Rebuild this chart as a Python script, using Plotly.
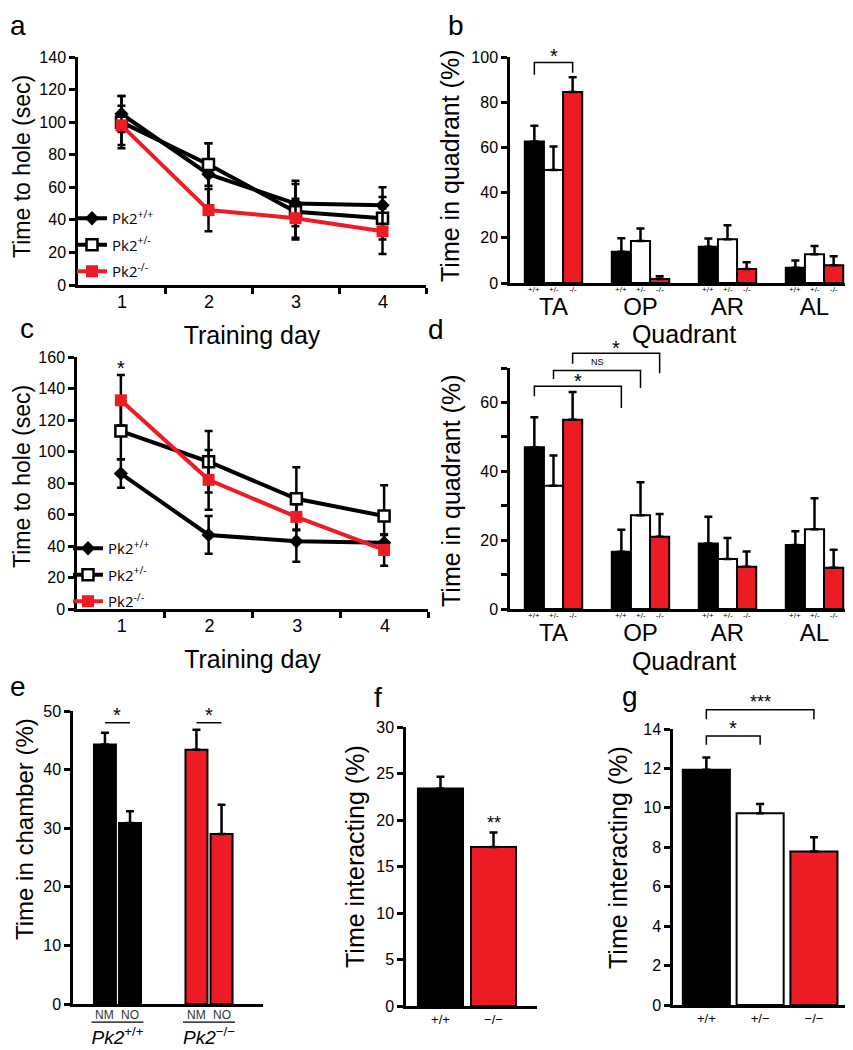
import plotly.graph_objects as go

W, H = 853, 1050
TOP = 8  # page margin above the plot div
RED = "#ED1C24"
SANS = "Liberation Sans, Arial, sans-serif"

# ---- data ----
days = [1, 2, 3, 4]
day_labels = ["1", "2", "3", "4"]
# panel a
a_wt = [105, 68, 50, 49]
a_wt_err = [11, 19, 14, 11]
a_het = [100, 74, 45, 41]
a_het_err = [16, 13, 17, 13]
a_ko = [98, 46, 41, 33]
a_ko_err = [12, 13, 12, 14]
# panel c
c_wt = [86, 47, 43, 42]
c_wt_err = [9, 12, 13, 5]
c_het = [113, 93.5, 70, 59]
c_het_err = [18, 19.5, 20, 19.5]
c_ko = [132.5, 82, 58.5, 37.5]
c_ko_err = [16, 19, 8, 10]

quadrants = ["TA", "OP", "AR", "AL"]
genotypes = ["+/+", "+/-", "-/-"]
# panel b
b_wt = [62.6, 13.8, 16.0, 6.7]
b_wt_err = [7, 6, 3.7, 3.3]
b_het = [50, 18.6, 19.4, 12.7]
b_het_err = [10.4, 5.5, 6.2, 3.7]
b_ko = [84.5, 1.8, 6.2, 7.8]
b_ko_err = [6.5, 1.2, 3, 4]
# panel d
d_wt = [47, 16.6, 19, 18.6]
d_wt_err = [8.7, 6.4, 7.8, 4]
d_het = [35.8, 27.2, 14.5, 23.2]
d_het_err = [8.8, 9.6, 6.1, 9]
d_ko = [55, 21, 12.3, 12]
d_ko_err = [8, 6.6, 4.4, 5.2]

# panel e
e_groups = ["<i>Pk2</i><sup>+/+</sup>", "<i>Pk2</i><sup>\u2212/\u2212</sup>"]
e_nm = [44.3, 43.4]
e_nm_err = [2, 3.4]
e_no = [30.9, 29]
e_no_err = [2, 5]
# panel f
f_groups = ["+/+", "\u2212/\u2212"]
f_vals = [23.4, 17.1]
f_err = [1.25, 1.55]
# panel g
g_groups = ["+/+", "+/\u2212", "\u2212/\u2212"]
g_vals = [11.93, 9.73, 7.78]
g_err = [0.62, 0.47, 0.73]

FH = H - TOP


def px(x):
    return x / W


def py(y):
    return 1 - (y - TOP) / FH


def axis(**kw):
    base = dict(showline=True, linecolor="black", linewidth=2.5, ticks="outside",
                ticklen=6, tickwidth=2.5, tickcolor="black", showgrid=False,
                zeroline=False, automargin=False,
                tickfont=dict(family=SANS, size=16, color="black"),
                title_font=dict(family=SANS, size=25, color="black"))
    base.update(kw)
    return base


fig = go.Figure()


def add_lines(xa, ya, legend, series):
    styles = [
        ("Pk2<sup>+/+</sup>", dict(symbol="diamond", size=11, color="black")),
        ("Pk2<sup>+/-</sup>", dict(symbol="square", size=11, color="white",
                                   line=dict(color="black", width=2.5))),
        ("Pk2<sup>-/-</sup>", dict(symbol="square", size=12, color=RED)),
    ]
    for k, ((name, marker), (vals, err)) in enumerate(zip(styles, series)):
        fig.add_scatter(
            x=days, y=vals, mode="lines+markers", name=name, marker=marker,
            line=dict(color=RED if marker["color"] == RED else "black", width=4),
            error_y=dict(type="data", array=err, thickness=2.5, width=4, color="black"),
            xaxis=xa, yaxis=ya, legend=legend, legendgroup=f"{legend}{k}",
        )


def add_quadrant_bars(xa, ya, series):
    w = 0.22
    offs = [-1.5, -0.5, 0.5]
    for k, ((vals, err), color) in enumerate(zip(series, ["black", "white", RED])):
        fig.add_bar(
            x=quadrants, y=vals, width=w, offset=offs[k] * w,
            marker=dict(color=color, line=dict(color="black", width=2)),
            error_y=dict(type="data", symmetric=False, array=err,
                         arrayminus=[0] * len(err), thickness=2.5, width=4, color="black"),
            xaxis=xa, yaxis=ya, showlegend=False,
        )
        for i in range(len(quadrants)):
            fig.add_annotation(
                x=i + offs[k] * w + w / 2, y=0, xref=xa, yref=ya + " domain",
                text=genotypes[k], showarrow=False, borderpad=0,
                yanchor="top", yshift=-1, font=dict(family=SANS, size=8, color="black"))


add_lines("x", "y", "legend", [(a_wt, a_wt_err), (a_het, a_het_err), (a_ko, a_ko_err)])
add_quadrant_bars("x2", "y2", [(b_wt, b_wt_err), (b_het, b_het_err), (b_ko, b_ko_err)])
add_lines("x3", "y3", "legend2", [(c_wt, c_wt_err), (c_het, c_het_err), (c_ko, c_ko_err)])
add_quadrant_bars("x4", "y4", [(d_wt, d_wt_err), (d_het, d_het_err), (d_ko, d_ko_err)])

# panel e
ew = 0.24
for vals, err, off, lab in [(e_nm, e_nm_err, -0.257, "NM"), (e_no, e_no_err, 0.017, "NO")]:
    fig.add_bar(x=e_groups, y=vals, width=ew, offset=off,
                marker=dict(color=["black", RED], line=dict(color="black", width=2)),
                error_y=dict(type="data", symmetric=False, array=err, arrayminus=[0, 0],
                             thickness=2.5, width=4, color="black"),
                xaxis="x5", yaxis="y5", showlegend=False)
    for i in range(2):
        fig.add_annotation(x=i + off + ew / 2, y=0, xref="x5", yref="y5 domain",
                           text=lab, showarrow=False, yanchor="top",
                           yshift=-2, font=dict(family=SANS, size=12, color="#333"))
for i in range(2):
    fig.add_shape(type="line", x0=i - 0.284, x1=i + 0.284, xref="x5", yref="y5 domain",
                  y0=-0.062, y1=-0.062, line=dict(color="black", width=1.2))

# panel f
fig.add_bar(x=f_groups, y=f_vals, width=0.85,
            marker=dict(color=["black", RED], line=dict(color="black", width=2)),
            error_y=dict(type="data", symmetric=False, array=f_err, arrayminus=[0, 0],
                         thickness=2.5, width=4, color="black"),
            xaxis="x6", yaxis="y6", showlegend=False)
# panel g
fig.add_bar(x=g_groups, y=g_vals, width=0.875,
            marker=dict(color=["black", "white", RED], line=dict(color="black", width=2)),
            error_y=dict(type="data", symmetric=False, array=g_err, arrayminus=[0, 0, 0],
                         thickness=2.5, width=4, color="black"),
            xaxis="x7", yaxis="y7", showlegend=False)


# ---- significance marks ----
def bracket(xa, ya, ymax, x0, x1, top, left, right, text, size=20, shift=-5):
    yr = ya + " domain"
    path = f"M {x0} {left / ymax} L {x0} {top / ymax} L {x1} {top / ymax} L {x1} {right / ymax}"
    fig.add_shape(type="path", path=path, xref=xa, yref=yr,
                  line=dict(color="black", width=1.5))
    fig.add_annotation(x=(x0 + x1) / 2, y=top / ymax, xref=xa, yref=yr, text=text,
                       showarrow=False, yanchor="bottom", yshift=shift,
                       font=dict(family=SANS, size=size, color="black"))


qw = 0.22
bracket("x2", "y2", 100, -qw, qw, 97.6, 92.2, 93, "*", shift=-7)
bracket("x4", "y4", 70, -qw, 1 - qw, 64.7, 61.8, 58.4, "*", shift=-8)
bracket("x4", "y4", 70, 0, 1, 69.3, 66.8, 64.2, "NS", size=9, shift=1)
bracket("x4", "y4", 70, qw, 1 + qw, 74.3, 71.2, 68.5, "*", shift=-8)
for i in range(2):
    bracket("x5", "y5", 50, i - 0.137, i + 0.137, 48, 48, 48, "*")
bracket("x7", "y7", 14, 0, 1, 13.65, 13.2, 13.2, "*")
bracket("x7", "y7", 14, 0, 2, 14.98, 14.5, 14.5, "***", size=18, shift=-4)
fig.add_annotation(x=1, y=18.4 / 30, xref="x6", yref="y6 domain", text="**",
                   showarrow=False, yanchor="bottom", font=dict(family=SANS, size=18, color="black"))
fig.add_annotation(x=1, y=145 / 160, xref="x3", yref="y3 domain", text="*",
                   showarrow=False, yanchor="bottom", font=dict(family=SANS, size=20, color="black"))

# y-axis titles (placed as rotated text to match the original spacing)
for text, tx, ty, size in [("Time to hole (sec)", 14, 167, 23),
                           ("Time in quadrant (%)", 442, 166, 25),
                           ("Time to hole (sec)", 14, 477, 23),
                           ("Time in quadrant (%)", 443, 491, 25),
                           ("Time in chamber (%)", 16, 829, 24),
                           ("Time interacting (%)", 347, 857, 25),
                           ("Time interacting (%)", 610, 858, 25)]:
    fig.add_annotation(x=px(tx), y=py(ty), xref="paper", yref="paper", text=text,
                       textangle=-90, showarrow=False, xanchor="center", yanchor="middle",
                       font=dict(family=SANS, size=size, color="black"))

# panel letters
for letter, lx, ly, anchor in [("a", 0, 8, "top"), ("b", 438, 8, "top"),
                               ("c", 10, 328, "middle"), ("d", 418, 330, "middle"),
                               ("e", 0, 686, "middle"), ("f", 364, 697, "middle"),
                               ("g", 612, 696, "middle")]:
    fig.add_annotation(x=px(lx), y=py(ly), xref="paper", yref="paper", text=letter,
                       showarrow=False, xanchor="left", yanchor=anchor,
                       font=dict(family=SANS, size=28, color="black"))

# ticks sit between days, labels are shifted back onto the day positions
day_x = dict(range=[0.5, 4.5], tickvals=[d + 0.5 for d in days], ticktext=day_labels,
             ticklabelshift=-43, ticklabelstandoff=-7,
             tickfont=dict(family=SANS, size=18, color="black"),
             title=dict(text="Training day", standoff=16, font=dict(family=SANS, size=25)))
quad_x = dict(range=[-0.5, 3.5], ticks="", ticklabelstandoff=0,
              tickfont=dict(family=SANS, size=24, color="black"))

legend_style = dict(xanchor="left", yanchor="top", bgcolor="rgba(0,0,0,0)",
                    font=dict(family="Open Sans", size=15, color="black"),
                    itemwidth=30, tracegroupgap=4)

fig.update_layout(
    width=W, height=FH, margin=dict(l=0, r=0, t=0, b=0),
    paper_bgcolor="white", plot_bgcolor="white", barmode="group",
    font=dict(family=SANS, color="black"),
    xaxis=axis(domain=[px(70), px(418)], anchor="y", **day_x),
    yaxis=axis(domain=[py(285), py(57)], anchor="x", range=[0, 140], dtick=20),
    xaxis2=axis(domain=[px(502), px(850)], anchor="y2", **quad_x,
                title=dict(text="Quadrant", standoff=0, font=dict(family=SANS, size=25))),
    yaxis2=axis(domain=[py(283), py(57)], anchor="x2", range=[0, 100], dtick=20),
    xaxis3=axis(domain=[px(69), px(420)], anchor="y3", **day_x),
    yaxis3=axis(domain=[py(609), py(357)], anchor="x3", range=[0, 160], dtick=20),
    xaxis4=axis(domain=[px(502), px(850)], anchor="y4", **quad_x,
                title=dict(text="Quadrant", standoff=8, font=dict(family=SANS, size=25))),
    yaxis4=axis(domain=[py(609), py(368)], anchor="x4", range=[0, 70],
                tickvals=[0, 10, 20, 30, 40, 50, 60, 70],
                ticktext=["0", "", "20", "", "40", "", "60", ""]),
    xaxis5=axis(domain=[px(65), px(255)], anchor="y5", range=[-0.486, 1.59], ticks="",
                ticklabelstandoff=14, tickfont=dict(family=SANS, size=19, color="black")),
    yaxis5=axis(domain=[py(1004), py(711)], anchor="x5", range=[0, 50], dtick=10),
    xaxis6=axis(domain=[px(398), px(529)], anchor="y6", range=[-0.65, 1.82], ticks="",
                ticklabelstandoff=0, tickfont=dict(family=SANS, size=13, color="black")),
    yaxis6=axis(domain=[py(1006), py(727)], anchor="x6", range=[0, 30], dtick=5),
    xaxis7=axis(domain=[px(665), px(853)], anchor="y7", range=[-0.62, 2.875], ticks="",
                ticklabelstandoff=0, tickfont=dict(family=SANS, size=13, color="black")),
    yaxis7=axis(domain=[py(1005), py(729)], anchor="x7", range=[0, 14], dtick=2),
    legend=dict(x=px(64), y=py(202), **legend_style),
    legend2=dict(x=px(60), y=py(532), **legend_style),
)

fig.write_html("out.html")
